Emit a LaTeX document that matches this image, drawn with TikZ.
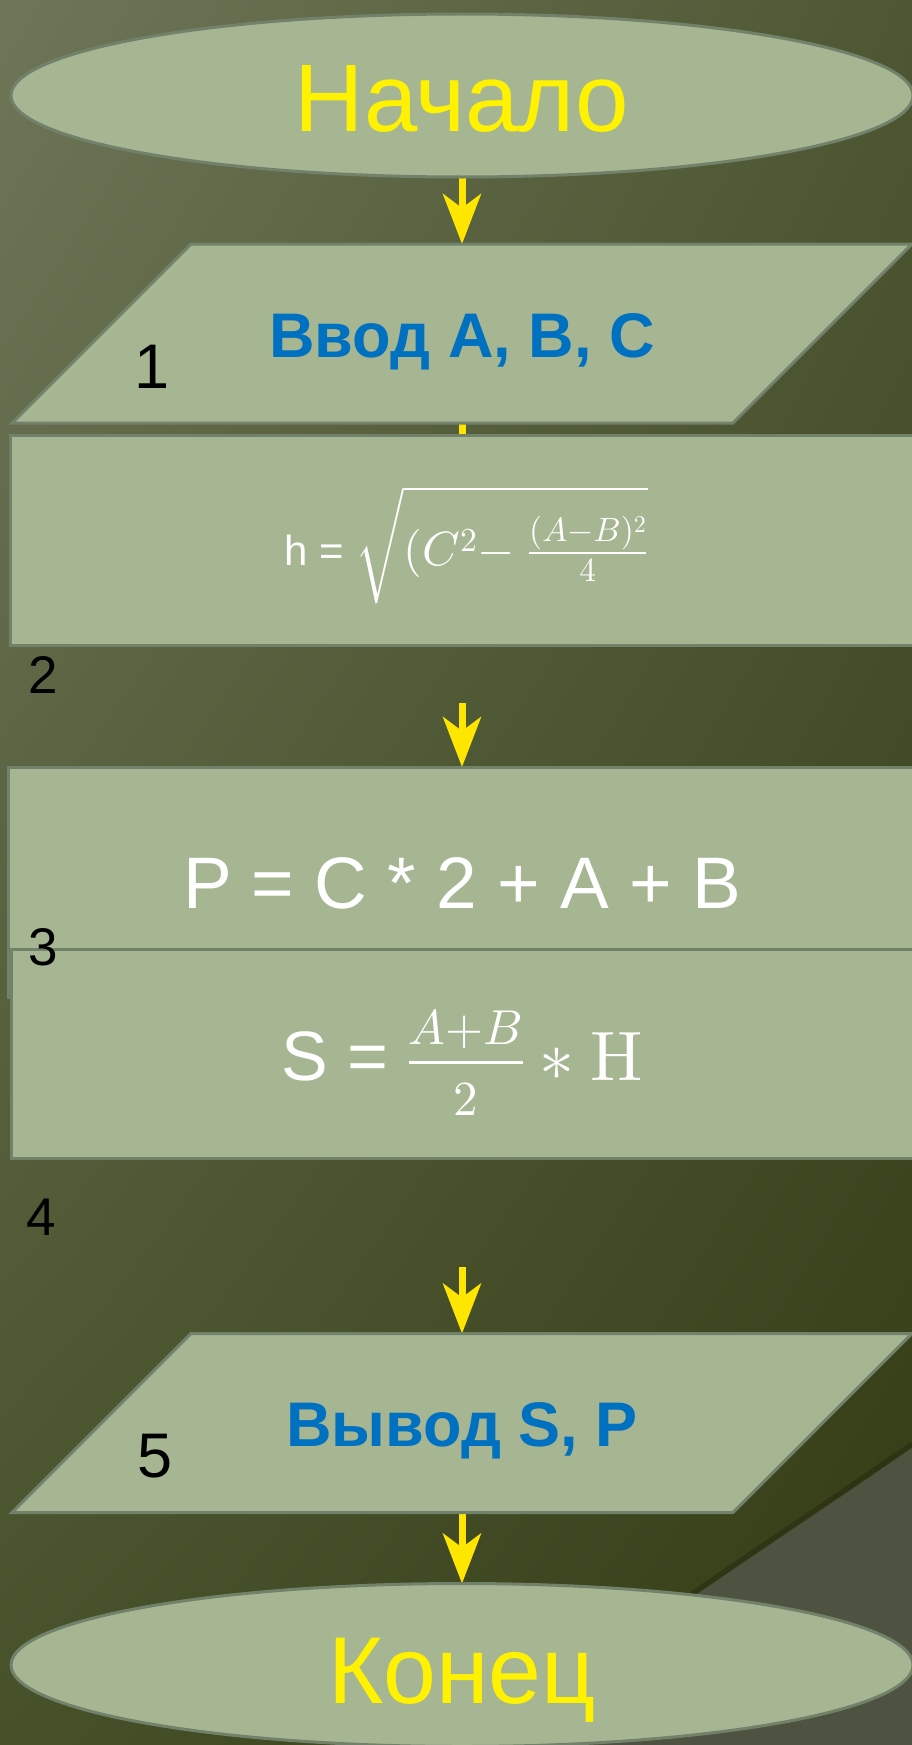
\documentclass[tikz,border=0pt]{standalone}
\usepackage[no-math]{fontspec}
\setmainfont{Liberation Sans}
\DeclareFontShape{OT1}{cmr}{m}{n}{<->cmr10}{}
\DeclareFontShape{OML}{cmm}{m}{it}{<->cmmi10}{}
\DeclareFontShape{OMS}{cmsy}{m}{n}{<->cmsy10}{}
\DeclareFontShape{OMX}{cmex}{m}{n}{<->cmex10}{}
\usetikzlibrary{shapes.geometric,arrows.meta,positioning,shadings}
\definecolor{bgtl}{HTML}{6E7658}
\definecolor{bgtr}{HTML}{4E5733}
\definecolor{bgbl}{HTML}{46512A}
\definecolor{bgbr}{HTML}{333B14}
\definecolor{bgpatch}{HTML}{4E5240}
\definecolor{blockfill}{HTML}{A6B592}
\definecolor{blockline}{HTML}{72816A}
\definecolor{flowyellow}{HTML}{FFE600}
\definecolor{inblue}{HTML}{0070C0}
\pgfdeclarelayer{bg}
\pgfdeclarelayer{lines}
\pgfdeclarelayer{shapes}
\pgfsetlayers{bg,lines,shapes,main}
\begin{document}
\begin{tikzpicture}[x=1pt,y=-1pt,
    block/.style={fill=blockfill,draw=blockline,line width=3pt,inner sep=0pt,outer sep=0pt},
    term/.style={block,ellipse,minimum width=902pt,minimum height=163pt,text=yellow,
      font=\fontsize{96}{100}\selectfont,text height=71pt,text depth=0pt},
    io/.style={rectangle,inner sep=0pt,outer sep=0pt,minimum width=721pt,minimum height=179pt,
      text=inblue,font=\bfseries\fontsize{63}{70}\selectfont,text height=47pt,text depth=0pt},
    proc/.style={block,rectangle,text=white},
    num/.style={anchor=base,font=\fontsize{53}{60}\selectfont},
    flow/.style={flowyellow,line width=7pt,-{Stealth[length=50pt,width=38pt,inset=14pt]}}]
  \useasboundingbox (0,0) rectangle (912,1745);
  \begin{pgfonlayer}{bg}
    \shade[upper left=bgtl,upper right=bgtr,lower left=bgbl,lower right=bgbr] (0,0) rectangle (912,1745);
    \fill[bgpatch] (912,1448) .. controls (820,1512) and (700,1590) .. (560,1690) -- (490,1745) -- (912,1745) -- cycle;
    \draw[bgbr!70!black,line width=5pt,opacity=.5] (912,1444) .. controls (820,1508) and (700,1586) .. (560,1686);
  \end{pgfonlayer}

  \node[term] (start) at (462,95.5) {Начало};
  \node[io] (in) at (462,333.5) {Ввод A, B, C};
  \node[proc,minimum width=904pt,minimum height=210pt,font=\fontsize{42}{48}\selectfont,
    text height=75pt,text depth=25pt] (hcalc) at (462,540)
    {\hspace*{8pt}h = {\fontsize{48}{50}\selectfont$\sqrt{\rule[-0.62em]{0pt}{1.95em}(C^{2}{-}\ \frac{(A-B)^{2}}{4}}$}};
  \node[proc,minimum width=908pt,minimum height=230pt,font=\fontsize{73}{80}\selectfont,
    text height=53pt,text depth=0pt] (pcalc) at (462,882) {P = C * 2 + A + B};
  \node[proc,minimum width=902pt,minimum height=209pt,font=\fontsize{70}{76}\selectfont,
    text height=80pt,text depth=27pt] (scalc) at (462,1053.5)
    {S = $\frac{A+B\rule[-14pt]{0pt}{0pt}}{\rule{0pt}{49pt}2}\ast\mathrm{H}$};
  \node[io] (out) at (462,1423) {Вывод S, P};
  \node[term,font=\fontsize{95}{100}\selectfont,text height=76pt] (stop) at (462,1665) {Конец};

  \begin{pgfonlayer}{shapes}
    \foreach \p in {in,out}
      \draw[block] ([xshift=89.5pt]\p.north west) -- ([xshift=89.5pt]\p.north east)
        -- ([xshift=-89.5pt]\p.south east) -- ([xshift=-89.5pt]\p.south west) -- cycle;
  \end{pgfonlayer}

  \coordinate (toP) at (462,703);
  \coordinate (toOut) at (462,1267);

  \node[num,font=\fontsize{63}{70}\selectfont] (n1) at (152,388) {1};
  \node[num] (n2) at (43,693) {2};
  \node[num] (n3) at (43.5,965) {3};
  \node[num] (n4) at (41.5,1235) {4};
  \node[num,font=\fontsize{63}{70}\selectfont] (n5) at (155,1477) {5};

  \begin{pgfonlayer}{lines}
    \draw[flow] (start.south) -- (in.north);
    \draw[flow] (in.south) -- (hcalc.center);
    \draw[flow] (toP) -- (pcalc.north);
    \draw[flow] (toOut) -- (out.north);
    \draw[flow] (out.south) -- (stop.north);
  \end{pgfonlayer}
\end{tikzpicture}
\end{document}
